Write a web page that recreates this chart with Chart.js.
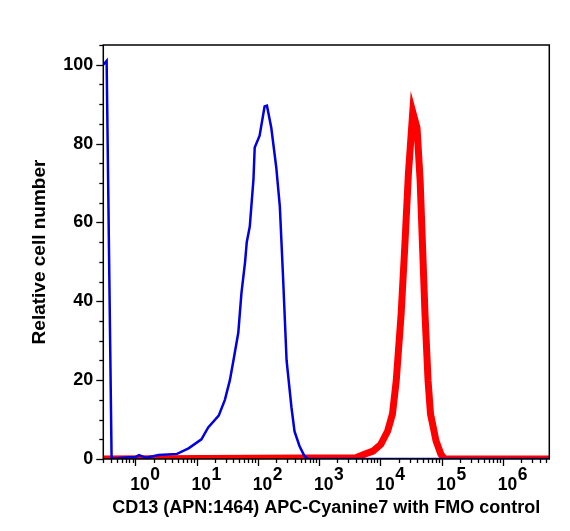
<!DOCTYPE html>
<html>
<head>
<meta charset="utf-8">
<script src="https://cdn.jsdelivr.net/npm/chart.js@4.4.1/dist/chart.umd.min.js"></script>
<style>
  html, body { margin: 0; padding: 0; background: #fff; }
</style>
</head>
<body>
<canvas id="histogram-chart" width="570" height="531"></canvas>
<script>
// CD13 APC-Cyanine7 stained sample (red)
const stainedLevels = [0.3, 4000, 5500, 7600, 10200, 13200, 15800, 18200, 21900, 25100, 28800, 33900,
    39800, 44700, 49000, 53700, 60300, 66100, 81300, 97700, 112000, 5800000];
const stainedCounts = [0, 0.3, 1.2, 2.0, 3.7, 7.1, 11.4, 19.8, 36.8, 53.8, 72.4, 88,
    84, 70.7, 53.8, 36.8, 19.8, 11.4, 4.6, 1.2, 0, 0];

// FMO control (blue)
const fmoLevels = [0.3, 0.34, 0.41, 0.6, 1.0, 1.15, 1.5, 2.4, 4.8, 7.4, 12, 15.5, 23, 29, 35, 40, 48, 54,
    62, 66, 74, 85, 89, 107, 129, 141, 166, 200, 229, 257, 295, 355, 398, 479, 575, 661, 5800000];
const fmoCounts = [100, 101, 0, 0.3, 0.5, 1.0, 0.3, 1.0, 1.3, 2.7, 5, 8, 11, 15, 20, 25, 32, 42,
    50, 55, 59, 71, 79, 82, 89.4, 89.6, 84, 74, 64, 47, 25, 13, 7, 3.3, 0.8, 0, 0];

const yTickValues = [0, 20, 40, 60, 80, 100];
const xDecades = [0, 1, 2, 3, 4, 5, 6];

const FONT = "'Liberation Sans', Arial, Helvetica, sans-serif";

const axisDecorations = {
    id: 'axisDecorations',
    afterDraw(chart) {
        const ctx = chart.ctx;
        const area = chart.chartArea;
        const xScale = chart.scales.x;
        const yScale = chart.scales.y;
        ctx.save();
        ctx.strokeStyle = '#000';
        ctx.lineWidth = 1.5;
        ctx.strokeRect(area.left, area.top, area.right - area.left, area.bottom - area.top);

        // y ticks, minor every 5
        ctx.lineWidth = 1.3;
        for (let v = 0; v <= yScale.max; v += 5) {
            const py = Math.round(yScale.getPixelForValue(v)) + 0.5;
            const len = v % 20 === 0 ? 7 : 4;
            ctx.beginPath();
            ctx.moveTo(area.left - len, py);
            ctx.lineTo(area.left, py);
            ctx.stroke();
        }

        // x ticks on log scale
        for (let d = -1; d <= 7; d++) {
            for (let m = 1; m <= 9; m++) {
                const value = m * Math.pow(10, d);
                if (value < xScale.min || value > xScale.max) continue;
                const px = Math.round(xScale.getPixelForValue(value)) + 0.5;
                const len = m === 1 ? 7 : 4;
                ctx.beginPath();
                ctx.moveTo(px, area.bottom);
                ctx.lineTo(px, area.bottom + len);
                ctx.stroke();
            }
        }

        // decade labels 10^n
        ctx.fillStyle = '#000';
        ctx.textAlign = 'left';
        ctx.textBaseline = 'alphabetic';
        ctx.font = 'bold 17.5px ' + FONT;
        xDecades.forEach(n => {
            const px = xScale.getPixelForValue(Math.pow(10, n));
            const base = '10';
            const w = ctx.measureText(base).width;
            ctx.fillText(base, px - 5, 489.5);
            ctx.fillText(String(n), px - 5 + w + 0.5, 480);
        });
        ctx.restore();
    }
};

const canvas = document.getElementById('histogram-chart');
if (canvas) {
    const histogramChart = new Chart(canvas.getContext('2d'), {
        type: 'line',
        data: {
            datasets: [
                {
                    label: 'FMO control',
                    data: fmoLevels.map((x, i) => ({ x: x, y: fmoCounts[i] })),
                    borderColor: '#0000e0',
                    borderWidth: 2.5,
                    pointRadius: 0,
                    tension: 0,
                    fill: false,
                    clip: 0,
                    order: 0
                },
                {
                    label: 'CD13 APC-Cyanine7',
                    data: stainedLevels.map((x, i) => ({ x: x, y: stainedCounts[i] })),
                    borderColor: '#ff0000',
                    borderWidth: 7,
                    pointRadius: 0,
                    tension: 0,
                    fill: false,
                    clip: 0,
                    order: 1
                }
            ]
        },
        options: {
            responsive: false,
            animation: false,
            devicePixelRatio: 1,
            layout: { padding: { left: 0, top: 45, right: 20.7, bottom: 0 } },
            plugins: {
                legend: { display: false },
                tooltip: { enabled: false }
            },
            scales: {
                x: {
                    type: 'logarithmic',
                    position: 'bottom',
                    min: 0.324,
                    max: 5750000,
                    grid: { display: false },
                    border: { display: false },
                    ticks: { display: false },
                    title: {
                        display: true,
                        text: 'CD13 (APN:1464) APC-Cyanine7 with FMO control',
                        color: '#000',
                        font: { family: FONT, size: 18, weight: 'bold' },
                        padding: { top: 0, bottom: 12.4 }
                    },
                    afterFit: scale => { scale.height = 72; }
                },
                y: {
                    type: 'linear',
                    min: 0,
                    max: 105,
                    afterBuildTicks: scale => {
                        scale.ticks = yTickValues.map(v => ({ value: v }));
                    },
                    grid: { display: false, drawTicks: true, tickLength: 7 },
                    border: { display: false },
                    ticks: {
                        color: '#000',
                        padding: 3,
                        font: { family: FONT, size: 18, weight: 'bold' }
                    },
                    title: {
                        display: true,
                        text: 'Relative cell number',
                        color: '#000',
                        font: { family: FONT, size: 19, weight: 'bold' },
                        padding: { top: 28, bottom: 0 }
                    },
                    afterFit: scale => { scale.width = 103.3; }
                }
            }
        },
        plugins: [axisDecorations]
    });
} else {
    console.error('Error: histogram-chart canvas not found!');
}
</script>
</body>
</html>
